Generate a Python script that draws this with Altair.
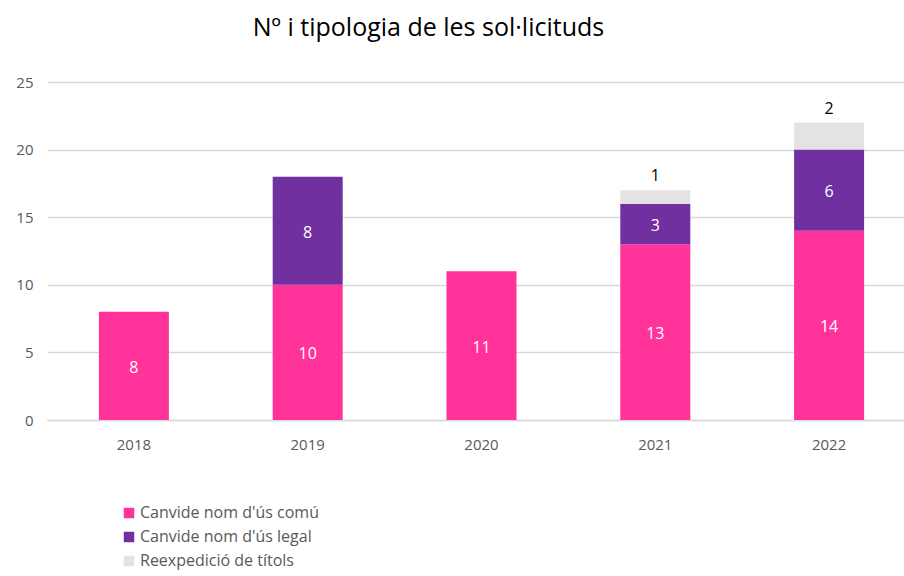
import altair as alt
import pandas as pd

years = ["2018", "2019", "2020", "2021", "2022"]
types = ["Canvide nom d'ús comú", "Canvide nom d'ús legal", "Reexpedició de títols"]
comu = [8, 10, 11, 13, 14]
legal = [0, 8, 0, 3, 6]
reexp = [0, 0, 0, 1, 2]
colors = ["#FF3399", "#7030A0", "#E3E3E3"]

rows = []
for i, y in enumerate(years):
    for k, vals in enumerate([comu, legal, reexp]):
        if vals[i] > 0:
            rows.append({"year": y, "type": types[k], "order": k, "value": vals[i]})
df = pd.DataFrame(rows)

FONT = "Open Sans"

base = alt.Chart(df).transform_stack(
    stack="value", groupby=["year"], as_=["y0", "y1"], sort=[alt.SortField("order")]
)

xscale = alt.Scale(range=[0, 869], paddingInner=0, paddingOuter=0)

x = alt.X("year:N", title=None, sort=years, scale=xscale,
          axis=alt.Axis(labelAngle=0, ticks=False, domain=True, domainColor="#d9d9d9",
                        domainWidth=1.5,
                        labelColor="#595959", labelFontSize=15, labelPadding=17, labelFont=FONT))

bars = base.mark_bar(size=70).encode(
    x=x,
    y=alt.Y("y0:Q", title=None, scale=alt.Scale(domain=[0, 25], nice=False),
            axis=alt.Axis(values=[0, 5, 10, 15, 20, 25], ticks=False, domain=False,
                          gridColor="#d9d9d9", gridWidth=1.5, labelColor="#595959",
                          labelFontSize=15, labelPadding=14, labelFont=FONT)),
    y2="y1:Q",
    color=alt.Color("type:N", scale=alt.Scale(domain=types, range=colors),
                    legend=alt.Legend(title=None, orient="none", legendX=74, legendY=423,
                                      symbolType="square", symbolSize=110, symbolStrokeWidth=0,
                                      labelFontSize=16, labelColor="#595959", labelFont=FONT,
                                      labelLimit=400, rowPadding=8, labelOffset=3)),
    order=alt.Order("order:Q"),
)

inner = base.transform_filter("datum.order < 2").transform_calculate(
    mid="(datum.y0 + datum.y1) / 2"
).mark_text(color="white", fontSize=16, font=FONT, dy=2).encode(
    x=alt.X("year:N", sort=years, scale=xscale), y="mid:Q", text="value:Q"
)

top = base.transform_filter("datum.order == 2").mark_text(
    color="black", fontSize=16, font=FONT, dy=-14
).encode(x=alt.X("year:N", sort=years, scale=xscale), y="y1:Q", text="value:Q")

chart = alt.layer(bars, inner, top).properties(
    width=857, height=338,
    title=alt.TitleParams("Nº i tipologia de les sol·licituds", fontSize=25, font=FONT,
                          fontWeight="normal", color="black", anchor="middle", dx=-47, offset=34),
    autosize=alt.AutoSizeParams(type="none"),
    padding={"left": 47, "top": 82, "right": 0, "bottom": 156},
).configure_view(stroke=None)

chart.save("out.html", embed_options={"renderer": "svg", "actions": False})
